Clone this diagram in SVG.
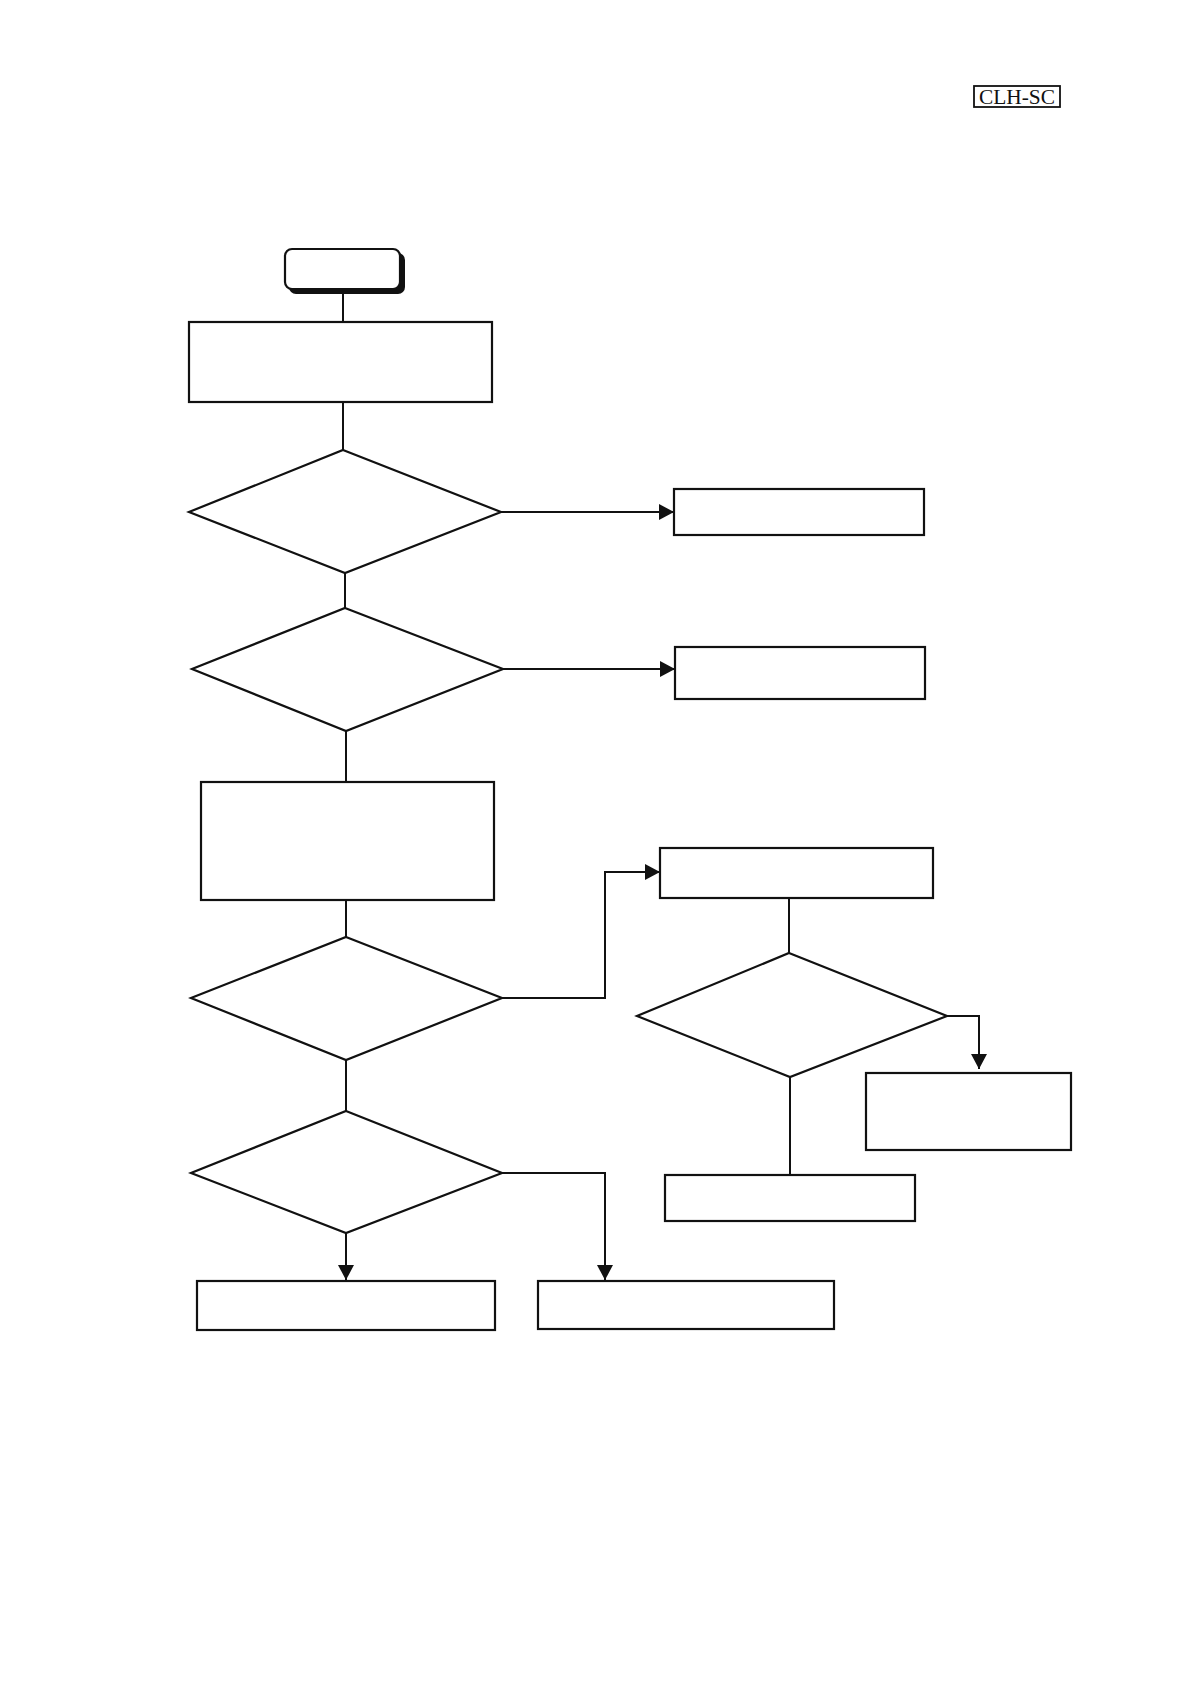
<svg xmlns="http://www.w3.org/2000/svg" width="1190" height="1684" viewBox="0 0 1190 1684">
<style>
.n{fill:#fff;stroke:#111;stroke-width:2.2}
.c{fill:none;stroke:#111;stroke-width:2}
.t{font-family:"Liberation Serif",serif;font-size:20px;fill:#111}
</style>
<defs>
<marker id="ah" markerUnits="userSpaceOnUse" markerWidth="15" markerHeight="16" refX="15" refY="8" orient="auto">
<path d="M0,0 L15,8 L0,16 z" fill="#111"/>
</marker>
</defs>
<rect width="1190" height="1684" fill="#fff"/>
<g id="tag">
<rect x="974" y="86" width="86" height="21" fill="#fff" stroke="#111" stroke-width="1.8"/>
<text class="t" x="1017" y="103.5" text-anchor="middle" textLength="76" lengthAdjust="spacingAndGlyphs">CLH-SC</text>
</g>
<g id="connectors">
<path class="c" d="M343,293 V322"/>
<path class="c" d="M343,402 V450"/>
<path class="c" d="M501,512 H674" marker-end="url(#ah)"/>
<path class="c" d="M345,573 V608"/>
<path class="c" d="M503,669 H675" marker-end="url(#ah)"/>
<path class="c" d="M346,731 V782"/>
<path class="c" d="M346,900 V937"/>
<path class="c" d="M502,998 H605 V872 H660" marker-end="url(#ah)"/>
<path class="c" d="M346,1060 V1111"/>
<path class="c" d="M346,1233 V1280" marker-end="url(#ah)"/>
<path class="c" d="M502,1173 H605 V1280" marker-end="url(#ah)"/>
<path class="c" d="M789,898 V953"/>
<path class="c" d="M947,1016 H979 V1069" marker-end="url(#ah)"/>
<path class="c" d="M790,1077 V1175"/>
</g>
<g id="start">
<rect x="289" y="253" width="116" height="41" rx="7" fill="#111"/>
<rect x="285" y="249" width="115" height="40" rx="7" class="n"/>
</g>
<g id="box1"><rect class="n" x="189" y="322" width="303" height="80"/></g>
<g id="dec1"><polygon class="n" points="343,450 501,512 345,573 189,512"/></g>
<g id="box2"><rect class="n" x="674" y="489" width="250" height="46"/></g>
<g id="dec2"><polygon class="n" points="345,608 503,669 346,731 192,669"/></g>
<g id="box3"><rect class="n" x="675" y="647" width="250" height="52"/></g>
<g id="box4"><rect class="n" x="201" y="782" width="293" height="118"/></g>
<g id="dec3"><polygon class="n" points="346,937 502,998 346,1060 191,998"/></g>
<g id="dec4"><polygon class="n" points="346,1111 502,1173 346,1233 191,1173"/></g>
<g id="box5"><rect class="n" x="197" y="1281" width="298" height="49"/></g>
<g id="box6"><rect class="n" x="538" y="1281" width="296" height="48"/></g>
<g id="box7"><rect class="n" x="660" y="848" width="273" height="50"/></g>
<g id="dec5"><polygon class="n" points="789,953 947,1016 790,1077 637,1016"/></g>
<g id="box8"><rect class="n" x="866" y="1073" width="205" height="77"/></g>
<g id="box9"><rect class="n" x="665" y="1175" width="250" height="46"/></g>
</svg>
